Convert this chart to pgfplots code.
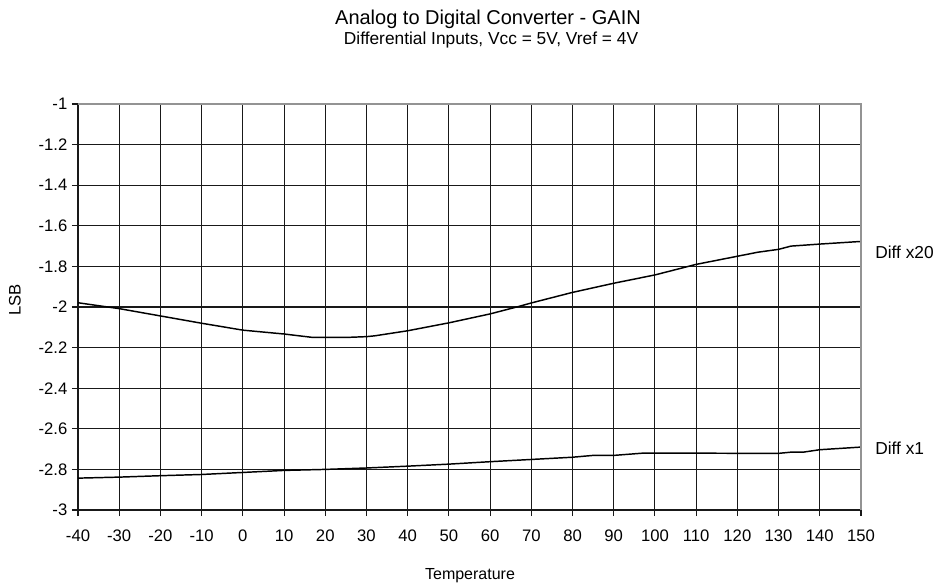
\documentclass[border=0pt]{standalone}
\usepackage{fontspec}
\setmainfont{Liberation Sans}
\usepackage{pgfplots}
\pgfplotsset{compat=1.18}
\begin{document}
\begin{tikzpicture}
\begin{axis}[
  at={(0,0)}, anchor=south west, scale only axis,
  width=587.25pt, height=304.5pt,
  xmin=-40, xmax=150, ymin=-3, ymax=-1,
  xtick={-40,-30,-20,-10,0,10,20,30,40,50,60,70,80,90,100,110,120,130,140,150},
  ytick={-3,-2.8,-2.6,-2.4,-2.2,-2,-1.8,-1.6,-1.4,-1.2,-1},
  yticklabels={-3,-2.8,-2.6,-2.4,-2.2,-2,-1.8,-1.6,-1.4,-1.2,-1},
  grid=major, grid style={black!90, line width=0.8pt},
  axis line style={draw=none},
  tick align=outside, xtick pos=bottom, ytick pos=left,
  major tick length=4.5pt,
  tick style={black!90, line width=0.8pt},
  ticklabel style={font=\fontsize{12.5}{14}\selectfont},
  /pgf/number format/assume math mode=true,
  xticklabel style={yshift=-7pt},
  yticklabel style={xshift=0pt},
  clip=false,
]
\addplot[black, line width=1.1pt] coordinates {
(-40,-1.979) (-30,-2.008) (-20,-2.044) (-10,-2.08) (0,-2.114) (10,-2.133)
(17,-2.150) (25,-2.150) (30,-2.146) (32,-2.142) (40,-2.117) (50,-2.078)
(60,-2.034) (67,-1.997) (70,-1.980) (80,-1.928) (90,-1.883) (100,-1.842)
(110,-1.790) (120,-1.750) (125,-1.730) (130,-1.716) (133,-1.700) (140,-1.690) (150,-1.677)
};
\addplot[black, line width=1.1pt] coordinates {
(-40,-2.843) (-30,-2.838) (-20,-2.831) (-10,-2.825) (0,-2.815) (10,-2.805)
(20,-2.800) (30,-2.793) (40,-2.784) (50,-2.774) (60,-2.762) (70,-2.751)
(80,-2.740) (85,-2.731) (90,-2.731) (97,-2.720) (110,-2.720) (125,-2.721)
(130,-2.721) (133,-2.715) (136,-2.715) (140,-2.703) (150,-2.690)
};
\draw[gray!85, line width=1.5pt] (rel axis cs:0,1) -- (rel axis cs:1,1) -- (rel axis cs:1,0);
\node[anchor=west, font=\fontsize{13}{15}\selectfont, inner sep=0pt] at (axis cs:150,-1.73) [xshift=10.5pt] {Diff x20};
\node[anchor=west, font=\fontsize{13}{15}\selectfont, inner sep=0pt] at (axis cs:150,-2.695) [xshift=10.5pt] {Diff x1};
\end{axis}
\node[anchor=base, font=\fontsize{15}{17}\selectfont, inner sep=0pt] at (307.5pt,363.75pt) {Analog to Digital Converter - GAIN};
\node[anchor=base, font=\fontsize{13}{15}\selectfont, inner sep=0pt] at (309.75pt,349.3pt) {Differential Inputs, Vcc = 5V, Vref = 4V};
\node[rotate=90, font=\fontsize{12.5}{14}\selectfont, inner sep=0pt] at (-47.25pt,157.5pt) {LSB};
\node[font=\fontsize{12}{14}\selectfont, inner sep=0pt] at (294pt,-49.5pt) {Temperature};
\path[use as bounding box] (-58.5pt,-57pt) rectangle (649.5pt,382.5pt);
\end{tikzpicture}
\end{document}
